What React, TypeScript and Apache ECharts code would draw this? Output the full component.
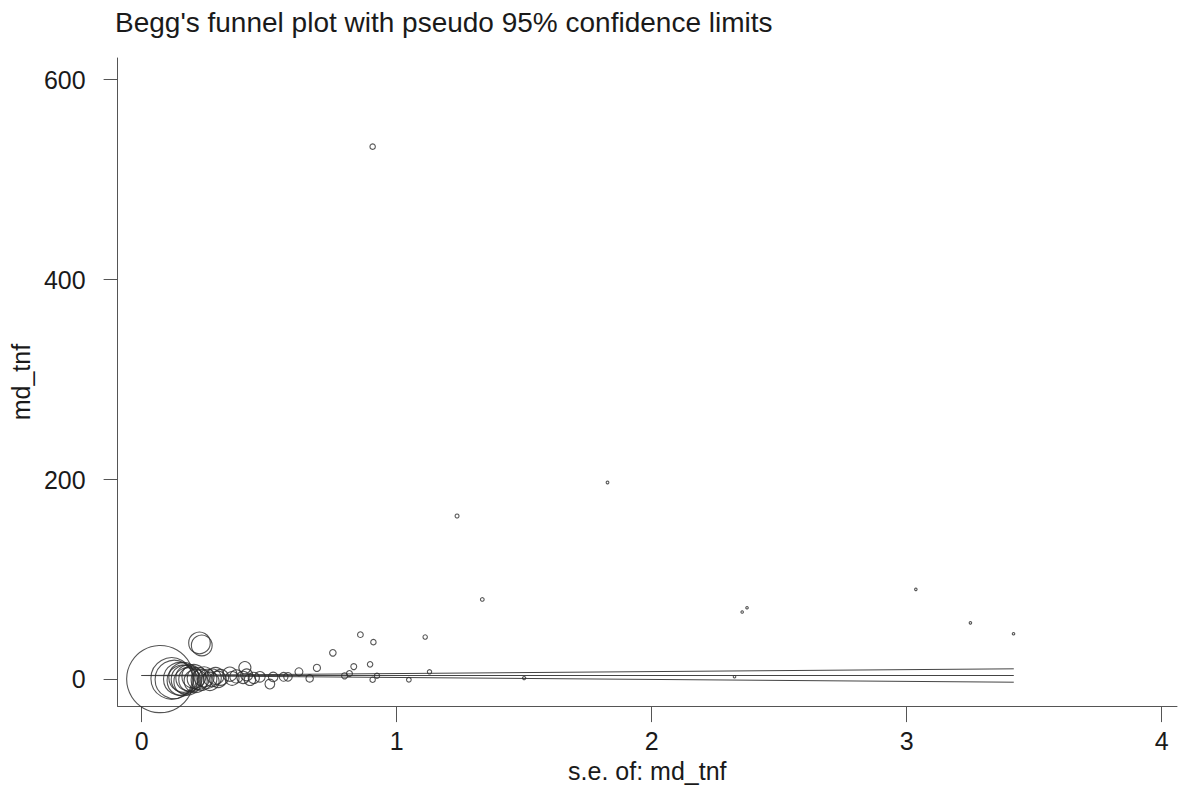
import React, { useEffect, useRef } from "react";
import * as echarts from "echarts";

const titleText = "Begg's funnel plot with pseudo 95% confidence limits";
const xName = "s.e. of: md_tnf";
const yName = "md_tnf";
const xTicks = [0, 1, 2, 3, 4];
const yTicks = [0, 200, 400, 600];

// standard errors
const seValues = [
  0.073, 0.118, 0.128, 0.15, 0.16, 0.165, 0.172, 0.18, 0.186, 0.195, 0.205, 0.212,
  0.222, 0.235, 0.245, 0.258, 0.268, 0.278, 0.29, 0.3, 0.31, 0.227, 0.236,
  0.346, 0.355, 0.372, 0.398, 0.405, 0.412, 0.425, 0.44, 0.464, 0.503, 0.516,
  0.557, 0.574, 0.617, 0.659, 0.6875, 0.75, 0.796, 0.815, 0.832, 0.858, 0.896,
  0.906, 0.909, 0.906, 0.923, 1.048, 1.112, 1.129, 1.237, 1.336, 1.5, 1.827,
  2.325, 2.355, 2.374, 3.036, 3.25, 3.419,
];
// effect estimates (md_tnf)
const mdValues = [
  0.3, 1.0, 0.0, 0.5, -1.0, 2.0, 0.0, -2.0, 1.5, 0.0, 3.0, -1.5,
  1.0, -0.5, 2.5, 0.5, -2.0, 1.5, 3.5, 0.0, 2.0, 36.5, 34.0,
  5.2, 1.0, 3.0, 2.0, 11.8, 4.5, -0.3, 1.5, 2.6, -4.6, 2.5,
  2.6, 2.6, 7.6, 1.0, 11.5, 26.6, 3.6, 5.9, 12.8, 44.8, 15.1,
  -0.3, 37.3, 533, 3.6, -0.3, 42.4, 7.6, 163.5, 80, 1.3, 197,
  2.7, 67.4, 71.7, 90.1, 56.6, 45.7,
];

// pooled estimate and pseudo 95% limits read at the line ends
const lineSe = [0, 3.42];
const centerLine = [3.9, 3.9];
const upperLine = [3.9, 10.6];
const lowerLine = [3.9, -2.8];

export default function App() {
  const ref = useRef<HTMLDivElement>(null);
  useEffect(() => {
    if (!ref.current) return;
    const chart = echarts.init(ref.current, undefined, { renderer: "svg" });
    const font = "'Liberation Sans', Arial, Helvetica, sans-serif";
    const points = seValues.map((s, i) => [s, mdValues[i]]);
    const mkLine = (ys: number[]) => ({
      type: "line",
      data: lineSe.map((s, i) => [s, ys[i]]),
      symbol: "none",
      lineStyle: { color: "#444", width: 1 },
      z: 3,
    });
    chart.setOption({
      animation: false,
      backgroundColor: "#ffffff",
      title: {
        text: titleText,
        left: 110,
        top: 3,
        textStyle: { fontFamily: font, fontSize: 28, fontWeight: "normal", color: "#1a1a1a" },
      },
      grid: { left: 114, right: 3, top: 58, bottom: 74 },
      xAxis: {
        type: "value",
        min: -0.094,
        max: 4.06,
        name: xName,
        nameLocation: "middle",
        nameGap: 44,
        nameTextStyle: { fontFamily: font, fontSize: 25, color: "#1a1a1a" },
        axisLine: { show: true, onZero: false, lineStyle: { color: "#555", width: 1 } },
        axisTick: { show: true, length: 16, customValues: xTicks, lineStyle: { color: "#555" } },
        axisLabel: { customValues: xTicks, fontFamily: font, fontSize: 25, color: "#1a1a1a", margin: 22 },
        splitLine: { show: false },
      },
      yAxis: {
        type: "value",
        min: -26.7,
        max: 621.7,
        name: yName,
        nameLocation: "middle",
        nameGap: 72,
        nameTextStyle: { fontFamily: font, fontSize: 25, color: "#1a1a1a" },
        axisLine: { show: true, onZero: false, lineStyle: { color: "#555", width: 1 } },
        axisTick: { show: true, length: 14, customValues: yTicks, lineStyle: { color: "#555" } },
        axisLabel: { customValues: yTicks, fontFamily: font, fontSize: 25, color: "#1a1a1a", margin: 32 },
        splitLine: { show: false },
      },
      series: [
        mkLine(upperLine),
        mkLine(centerLine),
        mkLine(lowerLine),
        {
          type: "scatter",
          data: points,
          symbol: "circle",
          symbolSize: (v: number[]) => Math.max(2.5, 4.9 / v[0]),
          itemStyle: { color: "rgba(0,0,0,0)", borderColor: "#2a2a2a", borderWidth: 1.1 },
          z: 4,
        },
      ],
    });
    return () => chart.dispose();
  }, []);
  return (
    <div
      ref={ref}
      style={{ position: "fixed", left: 0, top: 0, width: 1180, height: 788 }}
    />
  );
}
